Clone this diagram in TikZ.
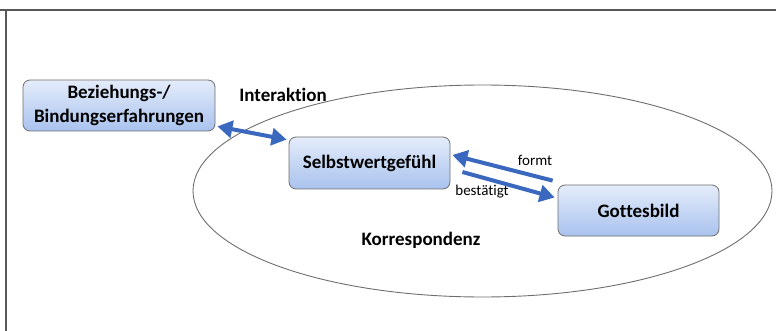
\documentclass[tikz,border=0pt]{standalone}
\usepackage{fontspec}
\setmainfont{Carlito}[Ligatures={NoCommon}]
\usetikzlibrary{arrows.meta,calc}

\definecolor{boxtop}{HTML}{E4ECFA}
\definecolor{boxbot}{HTML}{A9C2EE}
\definecolor{arrowblue}{HTML}{3A68BE}
\definecolor{rimgray}{HTML}{6E6E6E}

\tikzset{
	konzept/.style={draw=rimgray, line width=0.8pt, rounded corners=7pt, top color=boxtop, bottom color=boxbot,
		font=\fontsize{19}{24}\selectfont\bfseries, align=center, inner sep=2pt},
	pfeil/.style={arrowblue, line width=4pt, -{Triangle[length=15pt,width=17pt]}},
	doppelpfeil/.style={arrowblue, line width=4pt, {Triangle[length=15pt,width=17pt]}-{Triangle[length=15pt,width=17pt]}},
	marke/.style={font=\fontsize{19}{24}\selectfont\bfseries},
	klein/.style={font=\fontsize{15}{18}\selectfont}
}

\begin{document}
\begin{tikzpicture}[x=1pt, y=-1pt]

		\useasboundingbox (0,0) rectangle (776,331);

		% Rahmen
		\draw[rimgray!80!black, line width=1.3pt] (0,10) -- (776,10);
		\draw[rimgray!80!black, line width=1.3pt] (6,10) -- (6,331);

		% Korrespondenz-Ellipse
		\draw[rimgray, line width=0.9pt] (482.5,191) ellipse [x radius=289.5, y radius=106];

		\node[konzept, minimum width=192pt, minimum height=51pt] (bindung) at (119,105.5) {Beziehungs-/\\Bindungserfahrungen};
		\node[konzept, minimum width=161pt, minimum height=52pt] (selbst) at (369.5,163) {Selbstwertgefühl};
		\node[konzept, minimum width=161pt, minimum height=51pt] (gott) at (638.5,210.5) {Gottesbild};

		\node[marke] (interaktion) at (283,95) {Interaktion};
		\node[marke] (korr) at (421,240) {Korrespondenz};
		\node[klein] (formt) at (535,160) {formt};
		\node[klein] (bestaetigt) at (482,192) {bestätigt};

		\draw[doppelpfeil] ($(bindung.south east)+(2,-5)$) -- ($(selbst.north west)+(-2,3)$);
		\draw[pfeil] ($(gott.north west)+(-5,-4)$) -- ($(selbst.east)+(2,-8)$);
		\draw[pfeil] ($(selbst.east)+(12,9)$) -- ($(gott.west)+(-3,-13)$);

	\end{tikzpicture}
\end{document}
